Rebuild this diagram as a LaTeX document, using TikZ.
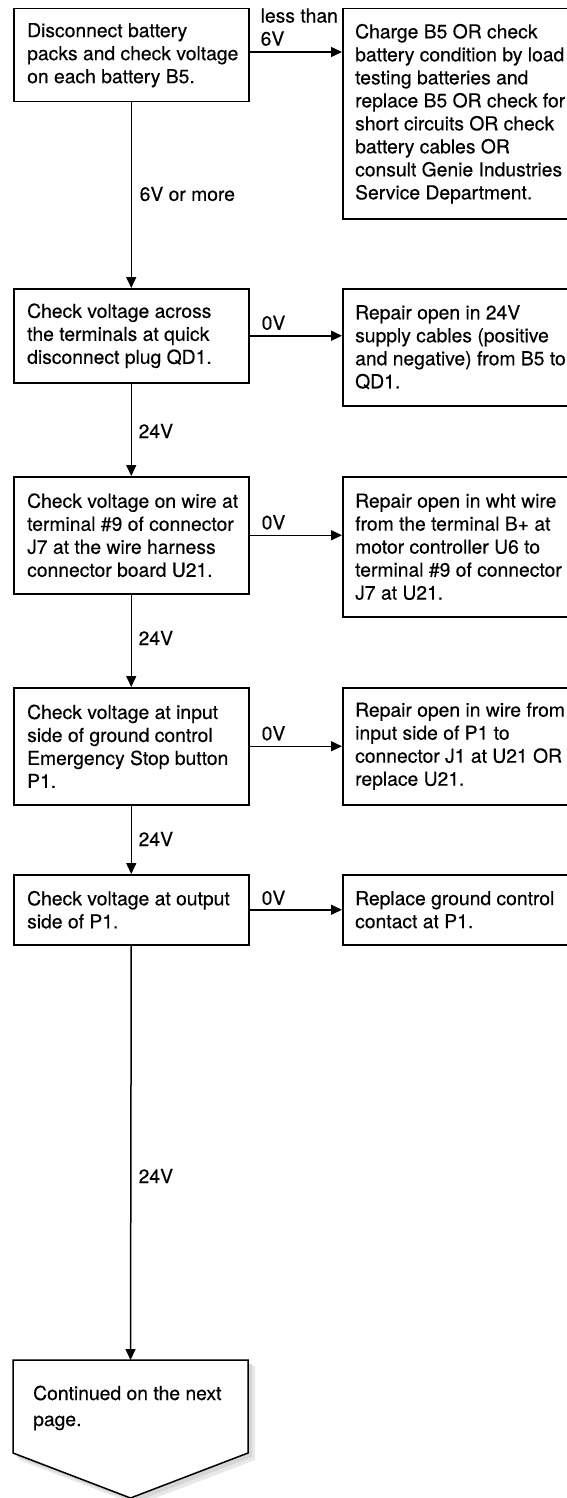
\documentclass[tikz,border=0pt]{standalone}
\usepackage{fontspec}
\setmainfont{TeX Gyre Heros}[FakeBold=0.3]
\usetikzlibrary{arrows.meta,calc}
\tikzset{
  stepbox/.style={draw, line width=1.5pt, minimum width=235pt, inner sep=0pt, anchor=north west},
  fixbox/.style={draw, line width=1.5pt, minimum width=226pt, inner sep=0pt, anchor=north west},
  txt/.style={align=left, inner sep=0pt, anchor=west, font=\fontsize{19.3}{23}\selectfont},
  lbl/.style={inner sep=0pt, font=\fontsize{19.3}{23}\selectfont},
  conn/.style={line width=1.5pt, -{Triangle[length=11pt,width=10pt]}},
}
\begin{document}
\begin{tikzpicture}[x=1pt,y=-1pt]
\useasboundingbox (0,0) rectangle (566,1498);

% boxes
\node[stepbox, minimum height=93pt] (b1) at (13,8) {};
\node[fixbox, minimum height=210pt] (r1) at (342,8) {};
\node[stepbox, minimum height=94pt] (b2) at (13,288) {};
\node[fixbox, minimum height=117pt] (r2) at (342,288) {};
\node[stepbox, minimum height=117pt] (b3) at (13,476) {};
\node[fixbox, minimum height=140pt] (r3) at (342,476) {};
\node[stepbox, minimum height=117pt] (b4) at (13,687) {};
\node[fixbox, minimum height=117pt] (r4) at (342,687) {};
\node[stepbox, minimum height=70pt] (b5) at (13,874) {};
\node[fixbox, minimum height=70pt] (r5) at (342,874) {};

% texts
\node[txt] (t1) at ([xshift=14pt]b1.west) {Disconnect battery\\packs and check voltage\\on each battery B5.};
\node[txt] (s1) at ([xshift=13pt]r1.west) {Charge B5 OR check\\battery condition by load\\testing batteries and\\replace B5 OR check for\\short circuits OR check\\battery cables OR\\consult Genie Industries\\Service Department.};
\node[txt] (t2) at ([xshift=14pt]b2.west) {Check voltage across\\the terminals at quick\\disconnect plug QD1.};
\node[txt] (s2) at ([xshift=13pt]r2.west) {Repair open in 24V\\supply cables (positive\\and negative) from B5 to\\QD1.};
\node[txt] (t3) at ([xshift=14pt]b3.west) {Check voltage on wire at\\terminal \#9 of connector\\J7 at the wire harness\\connector board U21.};
\node[txt] (s3) at ([xshift=13pt]r3.west) {Repair open in wht wire\\from the terminal B+ at\\motor controller U6 to\\terminal \#9 of connector\\J7 at U21.};
\node[txt] (t4) at ([xshift=14pt]b4.west) {Check voltage at input\\side of ground control\\Emergency Stop button\\P1.};
\node[txt] (s4) at ([xshift=13pt]r4.west) {Repair open in wire from\\input side of P1 to\\connector J1 at U21 OR\\replace U21.};
\node[txt] (t5) at ([xshift=14pt]b5.west) {Check voltage at output\\side of P1.};
\node[txt] (s5) at ([xshift=13pt]r5.west) {Replace ground control\\contact at P1.};

% final off-page connector with shadow
\coordinate (ptop) at (130.5,1360);
\fill[gray!18] (19,1366) -- (255,1366) -- (255,1460) -- (137,1505) -- (19,1460) -- cycle;
\fill[gray!32] (17,1364) -- (252,1364) -- (252,1457) -- (134.5,1502) -- (17,1457) -- cycle;
\draw[line width=1.5pt, fill=white, line join=miter] (13,1360) -- (248,1360) -- (248,1453) -- (130.5,1498) -- (13,1453) -- cycle;
\node[lbl, align=left, anchor=base west, font=\fontsize{19.3}{26}\selectfont] (t6) at (33,1426) {Continued on the next\\page.};

% horizontal connectors
\draw[conn] (b1.east |- 0,52) coordinate (h1) -- (h1 -| r1.west);
\draw[conn] (b2.east) -- (b2.east -| r2.west);
\draw[conn] (b3.east) -- (b3.east -| r3.west);
\draw[conn] (b4.east) -- (b4.east -| r4.west);
\draw[conn] (b5.east) -- (b5.east -| r5.west);

\node[lbl, align=left, anchor=south west] (l1) at ([xshift=11pt,yshift=6pt]h1) {less than\\6V};
\node[lbl, anchor=base west] (l2) at ([xshift=12pt,yshift=6pt]b2.east) {0V};
\node[lbl, anchor=base west] (l3) at ([xshift=12pt,yshift=6pt]b3.east) {0V};
\node[lbl, anchor=base west] (l4) at ([xshift=12pt,yshift=6pt]b4.east) {0V};
\node[lbl, anchor=base west] (l5) at ([xshift=12pt,yshift=5pt]b5.east) {0V};

% vertical connectors
\draw[conn] (b1.south) -- (b2.north);
\draw[conn] (b2.south) -- (b3.north);
\draw[conn] (b3.south) -- (b4.north);
\draw[conn] (b4.south) -- (b5.north);
\draw[conn] (b5.south) -- (ptop);

\coordinate (m1) at (130.5,194);
\coordinate (m2) at (130.5,431);
\coordinate (m3) at (130.5,638);
\coordinate (m4) at (130.5,839);
\coordinate (m5) at (130.5,1176);
\node[lbl, anchor=west] (v1) at ([xshift=9pt]m1) {6V or more};
\node[lbl, anchor=west] (v2) at ([xshift=8pt]m2) {24V};
\node[lbl, anchor=west] (v3) at ([xshift=8pt]m3) {24V};
\node[lbl, anchor=west] (v4) at ([xshift=8pt]m4) {24V};
\node[lbl, anchor=west] (v5) at ([xshift=8pt]m5) {24V};
\end{tikzpicture}
\end{document}
